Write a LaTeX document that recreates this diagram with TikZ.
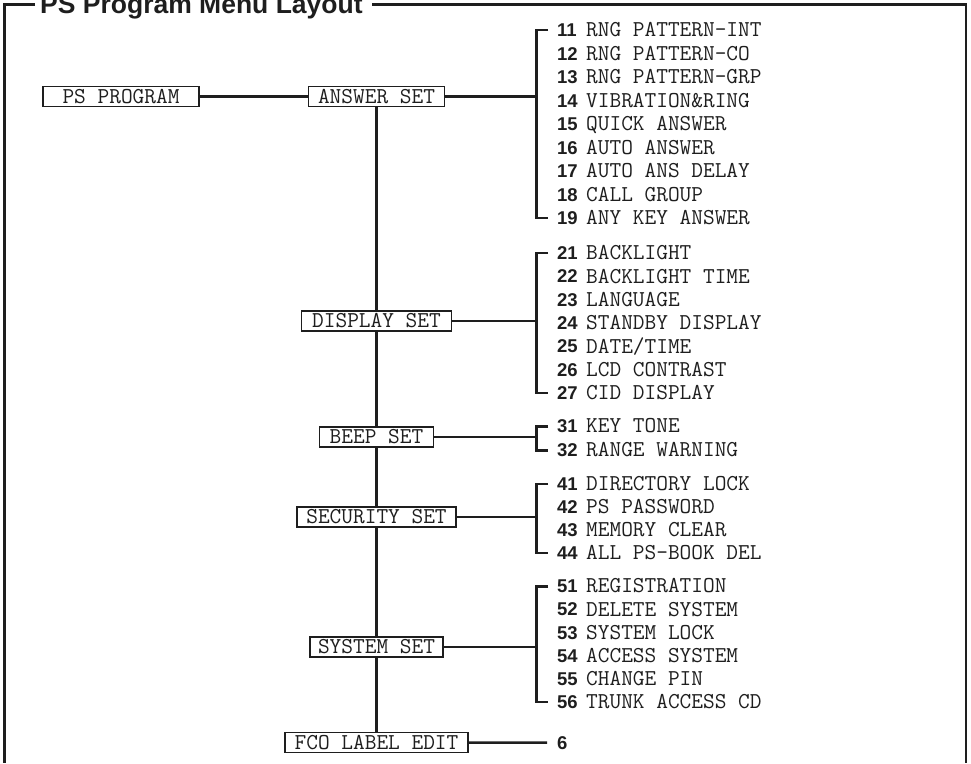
\documentclass[tikz,border=0pt]{standalone}
\usepackage{fontspec}
\newfontfamily\sansb{Liberation Sans}
\definecolor{ink}{RGB}{30,30,30}
\tikzset{
  grp/.style={draw=ink, fill=white, line width=1.2pt, inner sep=0pt, minimum height=20pt,
    font=\ttfamily\fontsize{22.7}{24}\selectfont, text=ink},
  num/.style={anchor=base west, inner sep=0pt, font=\sansb\bfseries\fontsize{18.5}{20}\selectfont, text=ink},
  lbl/.style={anchor=base west, inner sep=0pt, font=\ttfamily\fontsize{22.7}{24}\selectfont, text=ink},
  conn/.style={draw=ink, line width=2.5pt},
  border/.style={draw=ink, line width=2.6pt},
}
\newcommand\itemgroup[3]{%
  \foreach \n/\t [count=\i from 0] in {#3} {%
    \node[num] (n\n) at (557,{#1+#2*\i+6.6}) {\n};
    \node[lbl] (l\n) at (586,{#1+#2*\i+6.9}) {\t};
  }}
\begin{document}
\begin{tikzpicture}[x=1pt,y=-1pt]
\useasboundingbox (0,0) rectangle (971,763);
% title and frame
\node[anchor=base west, inner sep=0pt, text=ink, font=\sansb\bfseries\fontsize{26.5}{30}\selectfont] (title) at (40,13) {PS Program Menu Layout};
\draw[border] (35,4.5) -- (4.5,4.5) -- (4.5,763);
\draw[border] (372,4.5) -- (966,4.5) -- (966,763);
% boxes
\node[grp, minimum width=156pt] (ps) at (121,96.5) {PS PROGRAM};
\node[grp, minimum width=136pt] (ans) at (376.5,96.5) {ANSWER SET};
\node[grp, minimum width=150pt] (disp) at (376.5,321) {DISPLAY SET};
\node[grp, minimum width=114pt] (beep) at (376.5,437) {BEEP SET};
\node[grp, minimum width=159pt] (sec) at (376.5,517) {SECURITY SET};
\node[grp, minimum width=133pt] (sys) at (376.5,647) {SYSTEM SET};
\node[grp, minimum width=183pt] (fco) at (376.5,742.5) {FCO LABEL EDIT};
% items
\itemgroup{30}{23.5}{11/RNG PATTERN-INT,12/RNG PATTERN-CO,13/RNG PATTERN-GRP,14/VIBRATION\&RING,15/QUICK ANSWER,16/AUTO ANSWER,17/AUTO ANS DELAY,18/CALL GROUP,19/ANY KEY ANSWER}
\itemgroup{253}{23.33}{21/BACKLIGHT,22/BACKLIGHT TIME,23/LANGUAGE,24/STANDBY DISPLAY,25/{DATE/TIME},26/LCD CONTRAST,27/CID DISPLAY}
\itemgroup{426}{24}{31/KEY TONE,32/RANGE WARNING}
\itemgroup{484}{23}{41/DIRECTORY LOCK,42/PS PASSWORD,43/MEMORY CLEAR,44/ALL PS-BOOK DEL}
\itemgroup{586}{23.2}{51/REGISTRATION,52/DELETE SYSTEM,53/SYSTEM LOCK,54/ACCESS SYSTEM,55/CHANGE PIN,56/TRUNK ACCESS CD}
\node[num] (n6) at (557,749) {6};
% connectors
\coordinate (bx) at (536.5,0);
\draw[conn] (ps.east) -- (ans.west);
\draw[conn] (ans.south) -- (disp.north);
\draw[conn] (disp.south) -- (beep.north);
\draw[conn] (beep.south) -- (sec.north);
\draw[conn] (sec.south) -- (sys.north);
\draw[conn] (sys.south) -- (fco.north);
\foreach \b/\f/\l in {ans/11/19, disp/21/27, beep/31/32, sec/41/44, sys/51/56} {
  \draw[conn] (\b.east) -- (\b.east -| bx);
  \draw[conn] ([xshift=-9pt]n\f.west) -- (n\f.west -| bx) -- (n\l.west -| bx) -- ([xshift=-9pt]n\l.west);
}
\draw[conn] (fco.east) -- ([xshift=-10pt]n6.west);
\end{tikzpicture}
\end{document}
